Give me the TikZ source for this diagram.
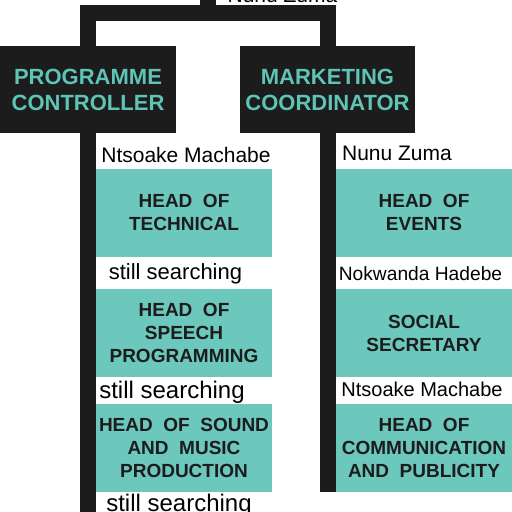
\documentclass[tikz,border=0pt]{standalone}
\usepackage{fontspec}
\setmainfont{Liberation Sans}

\definecolor{tealbox}{RGB}{108,199,189}
\definecolor{tealtext}{RGB}{94,196,182}
\definecolor{inkdark}{RGB}{28,28,28}

\begin{document}
\begin{tikzpicture}[x=1pt, y=-1pt,
    chief/.style={fill=inkdark, text=tealtext, font=\bfseries\fontsize{22}{26}\selectfont, align=center, minimum height=87pt, inner sep=0pt},
    head/.style={fill=tealbox, text=inkdark, font=\bfseries\fontsize{19}{23}\selectfont, align=center, minimum width=176pt, minimum height=88pt, inner sep=0pt},
    who/.style={font=\fontsize{#1}{#1}\selectfont, anchor=base, inner sep=0pt},
    trunk/.style={draw=inkdark, line width=16pt}]
            \useasboundingbox (0,0) rectangle (512,512);

            \node[chief, minimum width=176pt] (pc) at (88,89.5) {PROGRAMME\\CONTROLLER};
            \node[chief, minimum width=175pt] (mc) at (327.5,89.5) {MARKETING\\COORDINATOR};

            \node[head] (tech) at (184,212.5) {HEAD\ \ OF\\TECHNICAL};
            \node[head] (speech) at (184,333) {HEAD\ \ OF\\SPEECH\\PROGRAMMING};
            \node[head] (sound) at (184,448) {HEAD\ \ OF\ \ SOUND\\AND\ \ MUSIC\\PRODUCTION};

            \node[head] (events) at (424,212.5) {HEAD\ \ OF\\EVENTS};
            \node[head] (social) at (424,333) {SOCIAL\\SECRETARY};
            \node[head] (comms) at (424,448) {HEAD\ \ OF\\COMMUNICATION\\AND\ \ PUBLICITY};

            \coordinate (root) at (208,0);
            \coordinate (tail) at (88,512);
            \draw[trunk] (root) -- ++(0,13) -| (pc.north);
            \draw[trunk] (root) -- ++(0,13) -| (mc.north);
            \draw[trunk] (pc.south) -- (tail);
            \draw[trunk] (mc.south) -- (mc.south |- comms.south);

            \node[who=21] (boss) at (282.5,2) {Nunu Zuma};
            \node[who=21] (techname) at (186,162) {Ntsoake Machabe};
            \node[who=22] (speechname) at (175.5,279) {still searching};
            \node[who=24] (soundname) at (172,398) {still searching};
            \node[who=24] (lastname) at (179,511) {still searching};

            \node[who=21] (eventsname) at (397,160) {Nunu Zuma};
            \node[who=19.2] (socialname) at (420.5,280) {Nokwanda Hadebe};
            \node[who=20] (commsname) at (422,396) {Ntsoake Machabe};
\end{tikzpicture}
\end{document}
